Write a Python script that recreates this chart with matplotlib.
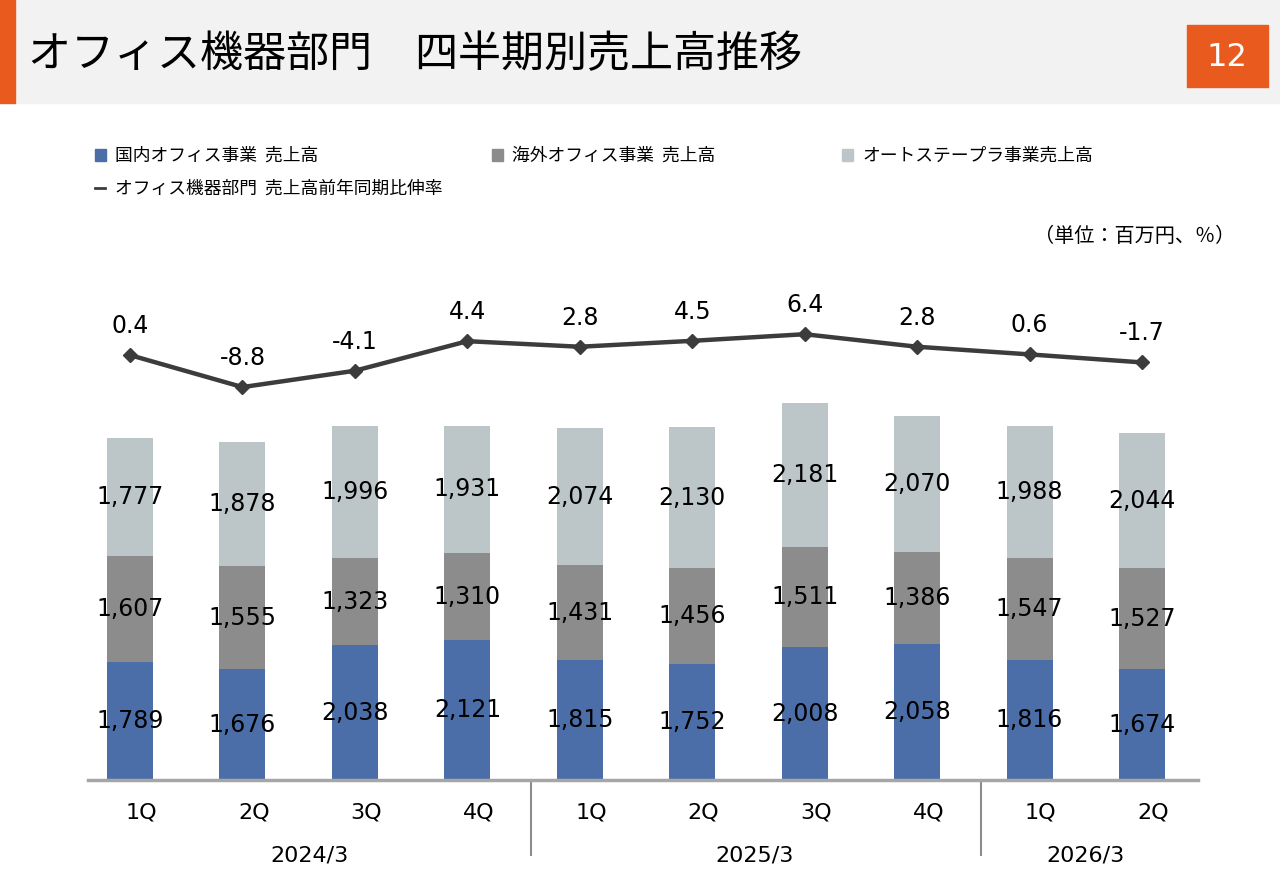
import matplotlib.pyplot as plt
import matplotlib.patches as mpatches
import numpy as np

plt.rcParams['font.family'] = ['Noto Sans CJK JP', 'DejaVu Sans']

# データ
quarters = ['1Q', '2Q', '3Q', '4Q', '1Q', '2Q', '3Q', '4Q', '1Q', '2Q']
years = ['2024/3', '2025/3', '2026/3']
year_pos = [1.6, 5.55, 8.5]
domestic = [1789, 1676, 2038, 2121, 1815, 1752, 2008, 2058, 1816, 1674]
overseas = [1607, 1555, 1323, 1310, 1431, 1456, 1511, 1386, 1547, 1527]
stapler = [1777, 1878, 1996, 1931, 2074, 2130, 2181, 2070, 1988, 2044]
growth = [0.4, -8.8, -4.1, 4.4, 2.8, 4.5, 6.4, 2.8, 0.6, -1.7]

c_dom = '#4b6ea8'
c_ovs = '#8c8c8c'
c_stp = '#bcc6c8'
c_line = '#3c3c3c'
orange = '#e85a1e'

W, H = 1280, 886
fig = plt.figure(figsize=(W / 100, H / 100), dpi=100)

# ヘッダー
fig.patches.append(mpatches.Rectangle((0, 1 - 103 / H), 1, 103 / H, transform=fig.transFigure,
                                      color='#f2f2f2', zorder=0))
fig.patches.append(mpatches.Rectangle((0, 1 - 103 / H), 15 / W, 103 / H, transform=fig.transFigure,
                                      color=orange, zorder=1))
fig.patches.append(mpatches.Rectangle((1187 / W, 1 - 87 / H), 81 / W, 62 / H, transform=fig.transFigure,
                                      color=orange, zorder=1))
fig.text(28 / W, 1 - 55 / H, 'オフィス機器部門\u3000四半期別売上高推移', fontsize=31,
         va='center', ha='left', color='#000000')
fig.text(1227 / W, 1 - 58 / H, '12', fontsize=23, color='white', ha='center', va='center',
         family='DejaVu Sans')

# 凡例
legend_items = [(95, 155, c_dom, '国内オフィス事業  売上高'),
                (492, 155, c_ovs, '海外オフィス事業  売上高'),
                (842, 155, c_stp, 'オートステープラ事業売上高')]
for x, y, c, t in legend_items:
    fig.patches.append(mpatches.Rectangle((x / W, 1 - (y + 6) / H), 11 / W, 12 / H,
                                          transform=fig.transFigure, color=c))
    fig.text((x + 20) / W, 1 - (y + 1) / H, t, fontsize=12.8, va='center', ha='left')
fig.lines.append(plt.Line2D([95 / W, 105 / W], [1 - 188 / H, 1 - 188 / H], transform=fig.transFigure,
                            color=c_line, lw=2))
fig.text(115 / W, 1 - 189 / H, 'オフィス機器部門  売上高前年同期比伸率', fontsize=12.8, va='center', ha='left')
fig.text(1235 / W, 1 - 237 / H, '（単位：百万円、％）', fontsize=14.5, va='center', ha='right')

# グラフ
ax = fig.add_axes([88 / W, 1 - 780 / H, 1110 / W, 530 / H])
x = np.arange(len(quarters))
bw = 0.41
bottom2 = np.array(domestic)
bottom3 = bottom2 + np.array(overseas)
ax.bar(x, domestic, bw, color=c_dom, zorder=2)
ax.bar(x, overseas, bw, bottom=bottom2, color=c_ovs, zorder=2)
ax.bar(x, stapler, bw, bottom=bottom3, color=c_stp, zorder=2)

num_font = dict(ha='center', va='center', fontsize=17, family='DejaVu Sans', zorder=4)
for i in range(len(x)):
    ax.text(x[i], domestic[i] / 2, f'{domestic[i]:,}', **num_font)
    ax.text(x[i], bottom2[i] + overseas[i] / 2, f'{overseas[i]:,}', **num_font)
    ax.text(x[i], bottom3[i] + stapler[i] / 2, f'{stapler[i]:,}', **num_font)

ax.set_xlim(-0.3735, 9.498)
ax.set_ylim(0, 8018)
for s in ['top', 'right', 'left']:
    ax.spines[s].set_visible(False)
ax.spines['bottom'].set_color('#a6a6a6')
ax.spines['bottom'].set_linewidth(2.5)
ax.set_yticks([])
ax.set_xticks(x + 0.1)
ax.set_xticklabels(quarters, fontsize=16, family='DejaVu Sans')
ax.tick_params(axis='x', length=0, pad=16)

# 年度ラベルと区切り線
for p, yl in zip(year_pos, years):
    ax.text(p, -0.142, yl, transform=ax.get_xaxis_transform(), ha='center', va='center',
            fontsize=16, family='DejaVu Sans')
for sep in [3.57, 7.57]:
    ax.plot([sep, sep], [0, -0.142], transform=ax.get_xaxis_transform(), color='#8c8c8c', lw=1.5,
            clip_on=False)

# 伸率ライン
ax2 = ax.twinx()
ax2.set_ylim(-121.7, 30.6)
ax2.plot(x, growth, color=c_line, lw=3.2, marker='D', markersize=7, zorder=3)
for i, g in enumerate(growth):
    ax2.annotate(f'{g}', (x[i], g), xytext=(0, 21), textcoords='offset points', ha='center',
                 va='center', fontsize=17, family='DejaVu Sans')
ax2.set_yticks([])
for s in ['top', 'right', 'left', 'bottom']:
    ax2.spines[s].set_visible(False)

fig.savefig('out.png', dpi=100)
